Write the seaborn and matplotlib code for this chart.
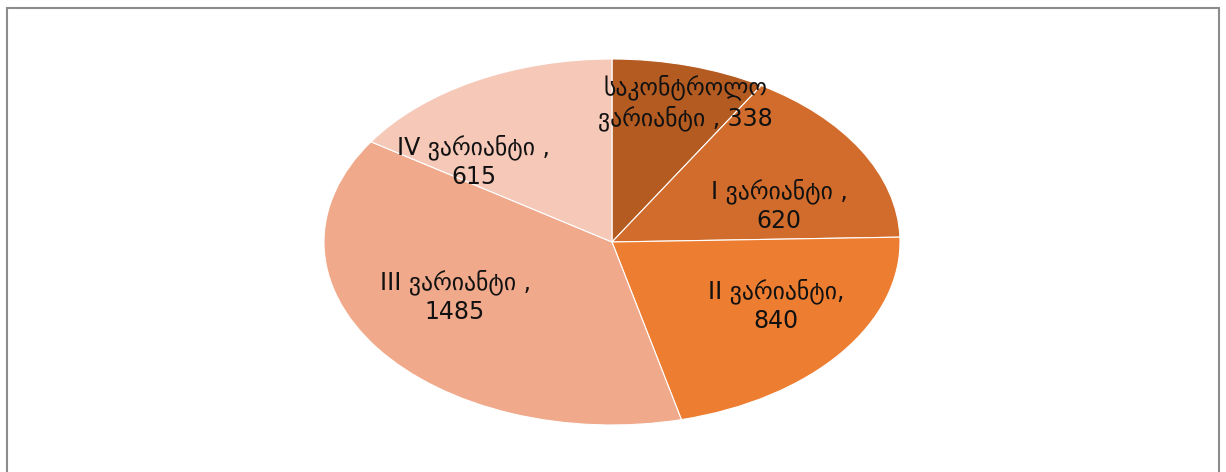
import matplotlib
matplotlib.use("Agg")
import matplotlib.pyplot as plt
import seaborn as sns
from matplotlib.patches import Rectangle

sns.set_theme(style="white")
plt.rcParams['font.family'] = ['DejaVu Sans']

categories = ["საკონტროლო\nვარიანტი", "I ვარიანტი", "II ვარიანტი", "III ვარიანტი", "IV ვარიანტი"]
values = [338, 620, 840, 1485, 615]
label_texts = ["საკონტროლო\nვარიანტი , 338", "I ვარიანტი ,\n620", "II ვარიანტი,\n840",
               "III ვარიანტი ,\n1485", "IV ვარიანტი ,\n615"]
colors = ["#B45B22", "#D26C2C", "#ED7D31", "#F0A98B", "#F5C8B8"]

W, H = 1226, 472
fig = plt.figure(figsize=(W / 100, H / 100), dpi=100)
fig.patch.set_facecolor("white")

# ellipse: center (612, 242), rx 288, ry 183 (pixels)
cx, cy, rx, ry = 612, 242, 288, 183
ax = fig.add_axes([(cx - rx) / W, (H - cy - ry) / H, 2 * rx / W, 2 * ry / H])
wedges, texts = ax.pie(values, colors=colors, startangle=90, counterclock=False,
                       radius=1.0, labels=label_texts, labeldistance=0.65,
                       wedgeprops=dict(edgecolor="white", linewidth=0.8),
                       textprops=dict(fontsize=17, color="#111111", ha="center",
                                      va="center", multialignment="center",
                                      linespacing=1.25))
ax.set_aspect("auto")
ax.set_xlim(-1, 1)
ax.set_ylim(-1, 1)
ax.axis("off")

# label placement (ellipse-relative), similar to best-fit placement in reference
label_pos = [(0.255, 0.76), (0.58, 0.20), (0.57, -0.35), (-0.545, -0.30), (-0.48, 0.44)]
for t, (px, py) in zip(texts, label_pos):
    t.set_position((px, py))
    t.set_horizontalalignment("center")
    t.set_verticalalignment("center")

# chart frame (top, left, right visible)
fig.add_artist(Rectangle((7 / W, -0.05), (1219 - 7) / W, (H - 8) / H + 0.05,
                         transform=fig.transFigure, fill=False,
                         edgecolor="#8c8c8c", linewidth=1.5))

fig.savefig("out.png", dpi=100, facecolor="white")
